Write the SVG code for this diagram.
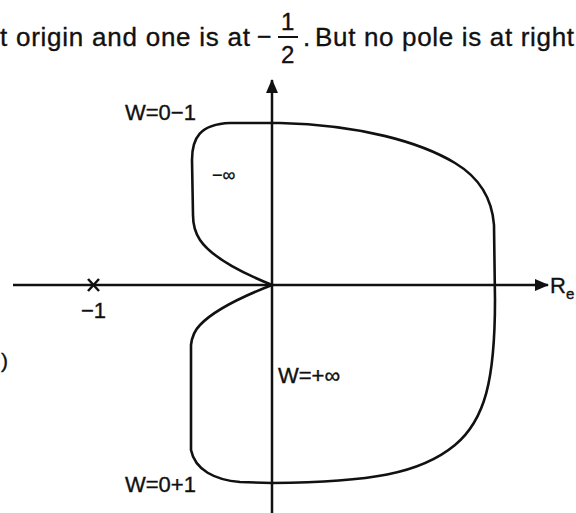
<svg xmlns="http://www.w3.org/2000/svg" width="576" height="513" viewBox="0 0 576 513">
<defs>
<style>
text{font-family:"Liberation Sans",Arial,sans-serif;fill:#111;stroke:#111;stroke-width:0.35}
.ax{stroke:#111;stroke-width:2.5;fill:none}
.cv{stroke:#111;stroke-width:2.6;fill:none;stroke-linejoin:round}
.lbl{font-size:22px}
</style>
<marker id="ah" viewBox="0 0 14 12" refX="13" refY="6" markerWidth="14" markerHeight="12" markerUnits="userSpaceOnUse" orient="auto">
<path d="M0,0 L14,6 L0,12 Z" fill="#111"/>
</marker>
</defs>
<rect width="576" height="513" fill="#fff"/>
<g id="caption">
<text x="0" y="46" font-size="26" textLength="250" lengthAdjust="spacing">t origin and one is at</text>
<text x="257" y="45" font-size="25">−</text>
<text x="281" y="30" font-size="24">1</text>
<line x1="278" y1="37" x2="298" y2="37" stroke="#111" stroke-width="2"/>
<text x="281" y="63" font-size="24">2</text>
<text x="303" y="46" font-size="26">.</text>
<text x="315" y="46" font-size="26" textLength="259" lengthAdjust="spacing">But no pole is at right</text>
</g>
<g id="connectors">
<line id="real-axis" class="ax" x1="13" y1="285" x2="548" y2="285" marker-end="url(#ah)"/>
<line id="imag-axis" class="ax" x1="272" y1="513" x2="272" y2="80" marker-end="url(#ah)"/>
<path id="contour" class="cv" d="M272,285 Q215,262 200,240 C196,234 193,226 193,215 L192,160 C192,138 200,124 230,123 L280,123 C360,125 420,142 455,163 C480,178 492,198 494,225 L495,300 C495,380 485,420 455,445 C420,474 370,482 272,483 L240,482 C215,480 195,470 191,450 L191,345 C192,336 195,330 200,325 Q218,306 272,285 Z"/>
</g>
<g id="point-minus1">
<line x1="88" y1="279" x2="99" y2="291" stroke="#111" stroke-width="2.5"/>
<line x1="99" y1="279" x2="88" y2="291" stroke="#111" stroke-width="2.5"/>
<text class="lbl" x="81" y="318">−1</text>
</g>
<g id="labels">
<text class="lbl" x="125" y="120">W=0−1</text>
<text x="212" y="181" font-size="18">−∞</text>
<text class="lbl" x="278" y="383">W=+∞</text>
<text class="lbl" x="125" y="492">W=0+1</text>
<text x="550" y="293" font-size="22">R</text>
<text x="566" y="299" font-size="15">e</text>
<text x="1" y="368" font-size="21">)</text>
</g>
</svg>
